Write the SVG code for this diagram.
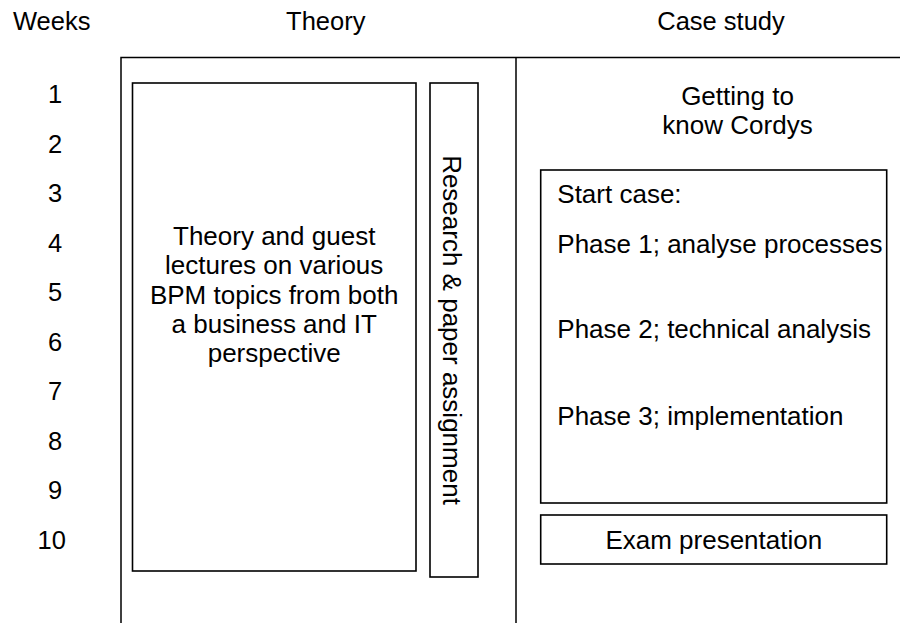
<svg xmlns="http://www.w3.org/2000/svg" width="900" height="623" viewBox="0 0 900 623">
<style>
text{font-family:"Liberation Sans",Arial,Helvetica,sans-serif;font-size:25.5px;fill:#000}
.b{font-size:26px}
.c{text-anchor:middle}
.box{fill:#fff;stroke:#000;stroke-width:1.6}
.frame{fill:none;stroke:#000;stroke-width:1.5}
</style>
<rect width="900" height="623" fill="#fff"/>
<g id="headers">
<text class="c" x="51.7" y="29.5">Weeks</text>
<text class="c" x="325.8" y="29.5">Theory</text>
<text class="c" x="721" y="29.5">Case study</text>
</g>
<g id="weeks">
<text class="c" x="55" y="103.3">1</text>
<text class="c" x="55" y="152.8">2</text>
<text class="c" x="55" y="202.3">3</text>
<text class="c" x="55" y="251.8">4</text>
<text class="c" x="55" y="301.3">5</text>
<text class="c" x="55" y="350.8">6</text>
<text class="c" x="55" y="400.3">7</text>
<text class="c" x="55" y="449.8">8</text>
<text class="c" x="55" y="499.3">9</text>
<text class="c" x="51.7" y="548.8">10</text>
</g>
<g id="connectors">
<path class="frame" d="M121,623 V57.5 H900 M516,57.5 V623"/>
</g>
<g id="theory">
<rect class="box" x="132.5" y="83" width="283.5" height="488"/>
<text class="c b" x="274.2" y="245">Theory and guest</text>
<text class="c b" x="274.2" y="274.3">lectures on various</text>
<text class="c b" x="274.2" y="303.6">BPM topics from both</text>
<text class="c b" x="274.2" y="332.9">a business and IT</text>
<text class="c b" x="274.2" y="362.2">perspective</text>
</g>
<g id="research">
<rect class="box" x="430" y="83" width="48" height="494"/>
<text class="c b" transform="translate(443,330) rotate(90)" x="0" y="0">Research &amp; paper assignment</text>
</g>
<g id="cordys">
<text class="c b" x="737.5" y="105">Getting to</text>
<text class="c b" x="737.5" y="133.5">know Cordys</text>
</g>
<g id="case">
<rect class="box" x="540.7" y="170" width="346" height="333"/>
<text class="b" x="557.3" y="203.3">Start case:</text>
<text class="b" x="557.3" y="252.7">Phase 1; analyse processes</text>
<text class="b" x="557.3" y="338.3">Phase 2; technical analysis</text>
<text class="b" x="557.3" y="425">Phase 3; implementation</text>
</g>
<g id="exam">
<rect class="box" x="540.7" y="515" width="346" height="49"/>
<text class="c b" x="713.8" y="549.3">Exam presentation</text>
</g>
</svg>
